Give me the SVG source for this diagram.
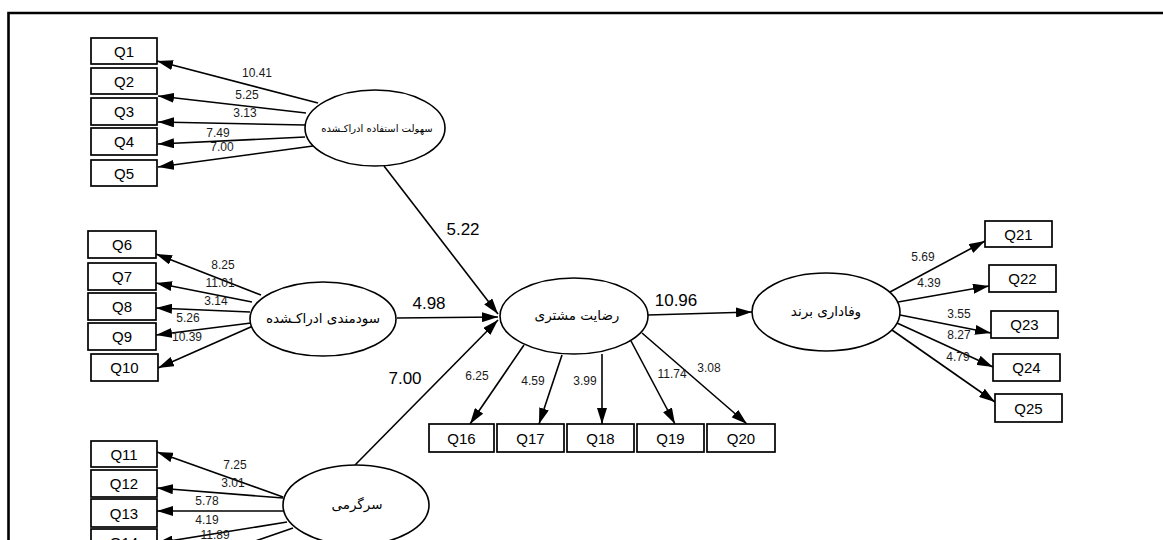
<svg xmlns="http://www.w3.org/2000/svg" width="1163" height="540" viewBox="0 0 1163 540">
<style>
.box{fill:#fff;stroke:#000;stroke-width:1.7}
.ell{fill:#fff;stroke:#000;stroke-width:1.6}
.q{font-family:"Liberation Sans",Arial,sans-serif;font-size:15px;fill:#000;text-anchor:middle}
.fa{font-family:"DejaVu Sans","Noto Sans",sans-serif;font-size:13.5px;fill:#000;text-anchor:middle}
.ld{font-family:"Liberation Sans",Arial,sans-serif;font-size:12px;fill:#1a1a1a;text-anchor:middle}
.pt{font-family:"Liberation Sans",Arial,sans-serif;font-size:17px;fill:#000;text-anchor:middle}
.c line{stroke:#000;stroke-width:1.6;fill:none;marker-end:url(#ah)}
.frame{stroke:#000;stroke-width:2.6;fill:none}
</style>
<defs>
<marker id="ah" viewBox="0 0 16 10" refX="16" refY="5" markerWidth="16" markerHeight="10" markerUnits="userSpaceOnUse" orient="auto">
<path d="M0,0 L16,5 L0,10 z" fill="#000"/>
</marker>
</defs>
<rect width="1163" height="540" fill="#fff"/>
<path class="frame" d="M8.5,540 V13 H1163"/>

<g id="connectors" class="c">
<line x1="318" y1="103" x2="157" y2="61"/>
<line x1="306" y1="113" x2="158" y2="96"/>
<line x1="305" y1="125" x2="158" y2="122"/>
<line x1="305" y1="137" x2="158" y2="144"/>
<line x1="313" y1="146" x2="158" y2="167"/>
<line x1="384" y1="166" x2="498" y2="314"/>
<line x1="397" y1="318" x2="498" y2="317"/>
<line x1="355" y1="465" x2="498" y2="320"/>
<line x1="648" y1="315" x2="752" y2="312"/>
<line x1="261" y1="295" x2="156" y2="254"/>
<line x1="252" y1="302" x2="156" y2="283"/>
<line x1="250" y1="312" x2="156" y2="308"/>
<line x1="251" y1="323" x2="156" y2="335"/>
<line x1="253" y1="326" x2="158" y2="368"/>
<line x1="283" y1="497" x2="157" y2="452"/>
<line x1="283" y1="498" x2="157" y2="488"/>
<line x1="283" y1="511" x2="157" y2="511"/>
<line x1="287" y1="522" x2="157" y2="543"/>
<line x1="293" y1="528" x2="157" y2="575"/>
<line x1="524" y1="345" x2="470" y2="424"/>
<line x1="562" y1="355" x2="539" y2="424"/>
<line x1="602" y1="354" x2="602" y2="424"/>
<line x1="631" y1="341" x2="675" y2="424"/>
<line x1="642" y1="333" x2="747" y2="424"/>
<line x1="890" y1="292" x2="985" y2="241"/>
<line x1="898" y1="302" x2="989" y2="286"/>
<line x1="900" y1="315" x2="991" y2="333"/>
<line x1="897" y1="323" x2="993" y2="367"/>
<line x1="892" y1="330" x2="995" y2="402"/>
</g>

<g id="loadings">
<text class="ld" x="257" y="77">10.41</text>
<text class="ld" x="247" y="99">5.25</text>
<text class="ld" x="245" y="117">3.13</text>
<text class="ld" x="218" y="137">7.49</text>
<text class="ld" x="222" y="151">7.00</text>
<text class="ld" x="223" y="269">8.25</text>
<text class="ld" x="220" y="287">11.01</text>
<text class="ld" x="216" y="305">3.14</text>
<text class="ld" x="188" y="322">5.26</text>
<text class="ld" x="187" y="341">10.39</text>
<text class="ld" x="235" y="469">7.25</text>
<text class="ld" x="233" y="487">3.01</text>
<text class="ld" x="207" y="505">5.78</text>
<text class="ld" x="207" y="524">4.19</text>
<text class="ld" x="215" y="539">11.89</text>
<text class="ld" x="477" y="380">6.25</text>
<text class="ld" x="533" y="385">4.59</text>
<text class="ld" x="585" y="385">3.99</text>
<text class="ld" x="672" y="378">11.74</text>
<text class="ld" x="709" y="372">3.08</text>
<text class="ld" x="923" y="261">5.69</text>
<text class="ld" x="929" y="287">4.39</text>
<text class="ld" x="959" y="318">3.55</text>
<text class="ld" x="959" y="339">8.27</text>
<text class="ld" x="958" y="361">4.79</text>
<text class="pt" x="463" y="235">5.22</text>
<text class="pt" x="429" y="309">4.98</text>
<text class="pt" x="405" y="384">7.00</text>
<text class="pt" x="676" y="306">10.96</text>
</g>

<g id="E1"><ellipse class="ell" cx="375" cy="128" rx="70" ry="38"/><text class="fa" x="377" y="132" style="font-size:10px">سهولت استفاده ادراکـشده</text></g>
<g id="E2"><ellipse class="ell" cx="323" cy="319" rx="73" ry="37"/><text class="fa" x="323" y="323">سودمندی ادراکـشده</text></g>
<g id="E3"><ellipse class="ell" cx="356" cy="505" rx="73" ry="40"/><text class="fa" x="357" y="509">سرگرمی</text></g>
<g id="EC"><ellipse class="ell" cx="574" cy="316" rx="74" ry="38"/><text class="fa" x="577" y="320">رضایت مشتری</text></g>
<g id="ER"><ellipse class="ell" cx="826" cy="312" rx="74" ry="39"/><text class="fa" x="826" y="316">وفاداری برند</text></g>

<g id="Q1"><rect class="box" x="91" y="38" width="66" height="26"/><text class="q" x="124" y="56.5">Q1</text></g>
<g id="Q2"><rect class="box" x="91" y="68" width="66" height="26"/><text class="q" x="124" y="86.5">Q2</text></g>
<g id="Q3"><rect class="box" x="91" y="98" width="66" height="27"/><text class="q" x="124" y="117">Q3</text></g>
<g id="Q4"><rect class="box" x="91" y="128" width="66" height="27"/><text class="q" x="124" y="147">Q4</text></g>
<g id="Q5"><rect class="box" x="91" y="160" width="66" height="26"/><text class="q" x="124" y="178.5">Q5</text></g>
<g id="Q6"><rect class="box" x="88" y="231" width="68" height="27"/><text class="q" x="122" y="250">Q6</text></g>
<g id="Q7"><rect class="box" x="88" y="263" width="68" height="27"/><text class="q" x="122" y="282">Q7</text></g>
<g id="Q8"><rect class="box" x="88" y="293" width="68" height="27"/><text class="q" x="122" y="312">Q8</text></g>
<g id="Q9"><rect class="box" x="88" y="323" width="68" height="27"/><text class="q" x="122" y="342">Q9</text></g>
<g id="Q10"><rect class="box" x="91" y="354" width="67" height="27"/><text class="q" x="124.5" y="373">Q10</text></g>
<g id="Q11"><rect class="box" x="91" y="441" width="66" height="26"/><text class="q" x="124" y="459.5">Q11</text></g>
<g id="Q12"><rect class="box" x="91" y="470" width="66" height="27"/><text class="q" x="124" y="489">Q12</text></g>
<g id="Q13"><rect class="box" x="91" y="499" width="66" height="28"/><text class="q" x="124" y="518.5">Q13</text></g>
<g id="Q14"><rect class="box" x="91" y="529" width="66" height="27"/><text class="q" x="124" y="548">Q14</text></g>
<g id="Q16"><rect class="box" x="429" y="424" width="65" height="28"/><text class="q" x="461.5" y="443.5">Q16</text></g>
<g id="Q17"><rect class="box" x="497" y="424" width="67" height="28"/><text class="q" x="530.5" y="443.5">Q17</text></g>
<g id="Q18"><rect class="box" x="567" y="424" width="67" height="28"/><text class="q" x="600.5" y="443.5">Q18</text></g>
<g id="Q19"><rect class="box" x="637" y="424" width="67" height="28"/><text class="q" x="670.5" y="443.5">Q19</text></g>
<g id="Q20"><rect class="box" x="707" y="424" width="68" height="28"/><text class="q" x="741" y="443.5">Q20</text></g>
<g id="Q21"><rect class="box" x="985" y="221" width="67" height="26"/><text class="q" x="1018.5" y="239.5">Q21</text></g>
<g id="Q22"><rect class="box" x="989" y="265" width="67" height="27"/><text class="q" x="1022.5" y="284">Q22</text></g>
<g id="Q23"><rect class="box" x="991" y="311" width="67" height="27"/><text class="q" x="1024.5" y="330">Q23</text></g>
<g id="Q24"><rect class="box" x="993" y="354" width="67" height="27"/><text class="q" x="1026.5" y="373">Q24</text></g>
<g id="Q25"><rect class="box" x="995" y="394" width="67" height="28"/><text class="q" x="1028.5" y="413.5">Q25</text></g>
</svg>
